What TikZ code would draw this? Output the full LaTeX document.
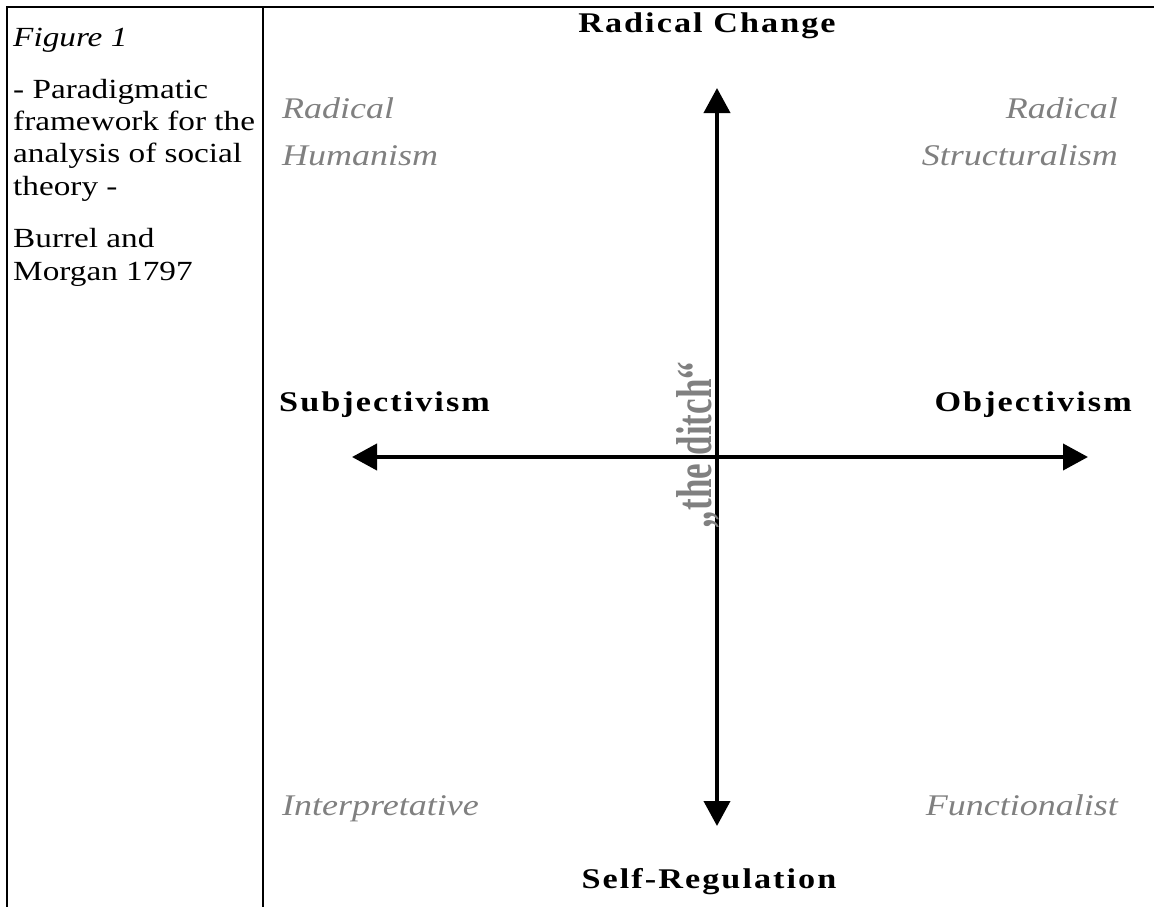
\documentclass[tikz,border=0pt]{standalone}
\usepackage{fontspec}
\setmainfont{Liberation Serif}
\usetikzlibrary{arrows.meta}
\definecolor{paragray}{HTML}{808080}

\begin{document}
\begin{tikzpicture}[x=1pt,y=-1pt,every node/.style={inner sep=0pt,xscale=1.2},
    pole/.style={font=\fontsize{28.5}{32}\selectfont\bfseries\addfontfeature{LetterSpace=6},anchor=base},
    para/.style={font=\fontsize{30}{47}\selectfont\itshape,text=paragray},
    note/.style={font=\fontsize{27.7}{32.3}\selectfont,align=left,anchor=base west},
    axis/.style={line width=4pt,{Triangle[length=25pt,width=26pt]}-{Triangle[length=25pt,width=26pt]}}]
    \useasboundingbox (0,0) rectangle (1154,907);
    % table rules
    \draw[line width=2.5pt] (7,907) |- (1154,7);
    \draw[line width=2.5pt] (263,7) -- (263,907);
    % caption column
    \node[note](fig) at (13,47) {\itshape Figure 1};
    \node[note](desc) at (13,195) {- Paradigmatic\\framework for the\\analysis of social\\theory -};
    \node[note](src) at (13,280) {Burrel and\\Morgan 1797};
    % axes
    \coordinate (n) at (717,88);
    \coordinate (s) at (717,826);
    \coordinate (w) at (352,457);
    \coordinate (e) at (1088,457);
    \draw[axis] (n) -- (s);
    \draw[axis] (w) -- (e);
    \node[pole](rc) at (707,33) {Radical Change};
    \node[pole](sr) at (709,888) {Self-Regulation};
    \node[pole,anchor=base west](sub) at (279,411) {Subjectivism};
    \node[pole,anchor=base east](obj) at (1132,411) {Objectivism};
    \node[pole,text=paragray,font=\fontsize{35}{40}\selectfont\bfseries,xscale=1,rotate=90,yscale=1.2](ditch) at (711,445) {„the ditch“};
    % paradigms
    \node[para,align=left,anchor=base west](rh) at (282,165) {Radical\\Humanism};
    \node[para,align=right,anchor=base east](rs) at (1118,165) {Radical\\Structuralism};
    \node[para,anchor=base west](ip) at (282,815) {Interpretative};
    \node[para,anchor=base east](fn) at (1118,815) {Functionalist};
\end{tikzpicture}
\end{document}
